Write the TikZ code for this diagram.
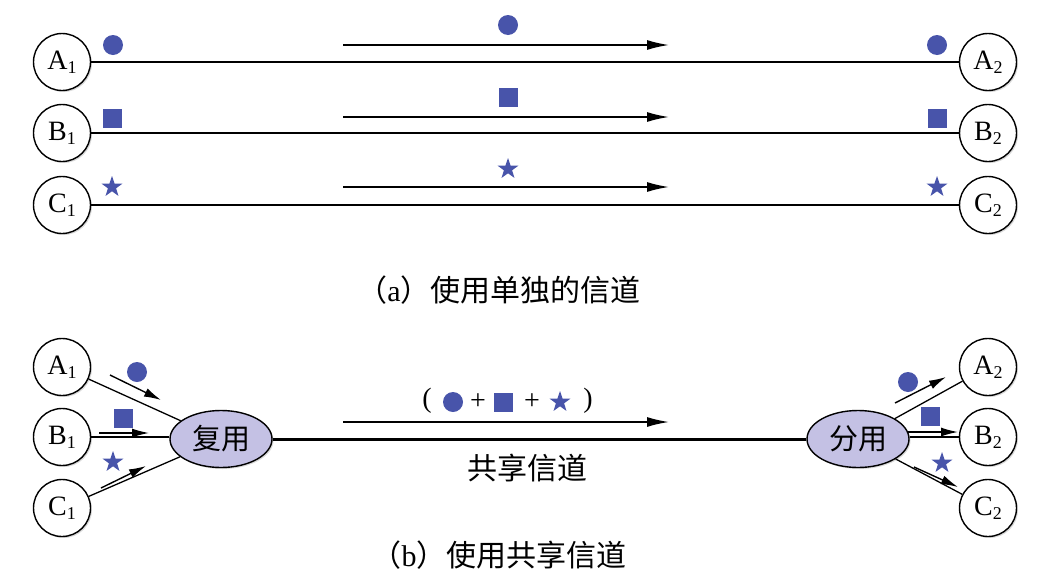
\documentclass[tikz,border=0pt]{standalone}
\usepackage{fontspec}
\setmainfont{Liberation Serif}
\newfontfamily\cjk{Noto Sans CJK SC}
\usetikzlibrary{arrows.meta,shapes.geometric,shadows}
\definecolor{symblue}{RGB}{72,84,170}
\definecolor{muxfill}{RGB}{196,193,228}
\newcommand{\stn}[2]{#1\raisebox{-0.3ex}{\fontsize{18}{18}\selectfont #2}}
\tikzset{
  station/.style={circle,draw,line width=1.4pt,fill=white,minimum size=57pt,inner sep=0pt,
    font=\fontsize{28}{28}\selectfont,
    drop shadow={shadow xshift=1.5pt,shadow yshift=-1.5pt,opacity=0.3}},
  muxnode/.style={ellipse,draw,line width=1.4pt,fill=muxfill,minimum width=102pt,minimum height=57pt,inner sep=0pt,
    font=\cjk\fontsize{29}{29}\selectfont,
    drop shadow={shadow xshift=1.5pt,shadow yshift=-1.5pt,opacity=0.3}},
  dotsym/.style={circle,fill=symblue,minimum size=20pt,inner sep=0pt},
  sqsym/.style={rectangle,fill=symblue,minimum size=19pt,inner sep=0pt},
  starsym/.style={star,star points=5,star point ratio=2.55,fill=symblue,minimum size=22pt,inner sep=0pt},
  chan/.style={line width=1.3pt},
  flow/.style={-{Latex[length=22pt,width=10pt]},line width=1.6pt},
  smallflow/.style={-{Latex[length=17pt,width=9pt]},line width=1.4pt},
  caption/.style={font=\fontsize{30}{30}\selectfont},
  plain/.style={font=\fontsize{28}{28}\selectfont,inner sep=0pt}
}
\begin{document}
\begin{tikzpicture}[x=1pt,y=-1pt]
\useasboundingbox (0,0) rectangle (1052,584);
% ---------- (a) ----------
\node[station] (a1) at (62,62) {\stn{A}{1}};
\node[station] (b1) at (62,133) {\stn{B}{1}};
\node[station] (c1) at (62,205) {\stn{C}{1}};
\node[station] (a2) at (988,62) {\stn{A}{2}};
\node[station] (b2) at (988,133) {\stn{B}{2}};
\node[station] (c2) at (988,205) {\stn{C}{2}};
\draw[chan] (a1) -- (a2);
\draw[chan] (b1) -- (b2);
\draw[chan] (c1) -- (c2);
\node[dotsym] (da1) at (113,45) {};
\node[dotsym] (da2) at (937,45) {};
\node[dotsym] (dam) at (508,25) {};
\node[sqsym] (sb1) at (112,118) {};
\node[sqsym] (sb2) at (937,118) {};
\node[sqsym] (sbm) at (508,97) {};
\node[starsym] (tc1) at (112,187) {};
\node[starsym] (tc2) at (937,187) {};
\node[starsym] (tcm) at (508,169) {};
\coordinate (fa0) at (343,45); \coordinate (fa1) at (669,45);
\coordinate (fb0) at (343,117); \coordinate (fb1) at (669,117);
\coordinate (fc0) at (343,187); \coordinate (fc1) at (669,187);
\draw[flow] (fa0) -- (fa1);
\draw[flow] (fb0) -- (fb1);
\draw[flow] (fc0) -- (fc1);
\node[caption] (capa) at (499,290) {{\cjk （}a{\cjk ）使用单独的信道}};
% ---------- (b) ----------
\node[station] (ba1) at (62,367) {\stn{A}{1}};
\node[station] (bb1) at (62,437) {\stn{B}{1}};
\node[station] (bc1) at (62,508) {\stn{C}{1}};
\node[station] (ba2) at (988,367) {\stn{A}{2}};
\node[station] (bb2) at (988,437) {\stn{B}{2}};
\node[station] (bc2) at (988,508) {\stn{C}{2}};
\node[muxnode] (mux) at (221,439) {复用};
\node[muxnode] (demux) at (858,439) {分用};
\draw[chan] (ba1) -- (mux);
\draw[chan] (bb1) -- (bb1 -| mux.west);
\draw[chan] (bc1) -- (mux);
\draw[chan] (demux) -- (ba2);
\draw[chan] (demux.east |- bb2) -- (bb2);
\draw[chan] (demux) -- (bc2);
\draw[line width=3pt] (mux) -- (demux);
% small arrows left
\coordinate (la0) at (110,375); \coordinate (la1) at (161,400);
\coordinate (lb0) at (99,433); \coordinate (lb1) at (149,433);
\coordinate (lc0) at (101,488); \coordinate (lc1) at (146,466);
\draw[smallflow] (la0) -- (la1);
\draw[smallflow] (lb0) -- (lb1);
\draw[smallflow] (lc0) -- (lc1);
\node[dotsym] (ld) at (137,372) {};
\node[sqsym] (ls) at (123,418) {};
\node[starsym] (lt) at (113,462) {};
% small arrows right
\coordinate (ra0) at (895,403); \coordinate (ra1) at (946,377);
\coordinate (rb0) at (908,432); \coordinate (rb1) at (958,432);
\coordinate (rc0) at (914,467); \coordinate (rc1) at (958,487);
\draw[smallflow] (ra0) -- (ra1);
\draw[smallflow] (rb0) -- (rb1);
\draw[smallflow] (rc0) -- (rc1);
\node[dotsym] (rd) at (908,382) {};
\node[sqsym] (rs) at (930,416) {};
\node[starsym] (rt) at (942,463) {};
% shared channel
\coordinate (sh0) at (343,422); \coordinate (sh1) at (669,422);
\draw[flow] (sh0) -- (sh1);
\node[plain] (pl) at (427,401) {(};
\node[dotsym] (pd) at (453,402) {};
\node[plain] (pp1) at (478,402) {+};
\node[sqsym] (ps) at (503,402) {};
\node[plain] (pp2) at (532,402) {+};
\node[starsym] (pt) at (560,402) {};
\node[plain] (pr) at (588,401) {)};
\node[font=\cjk\fontsize{30}{30}\selectfont] (shl) at (527,468) {共享信道};
\node[caption] (capb) at (499,555) {{\cjk （}b{\cjk ）使用共享信道}};
\end{tikzpicture}
\end{document}
